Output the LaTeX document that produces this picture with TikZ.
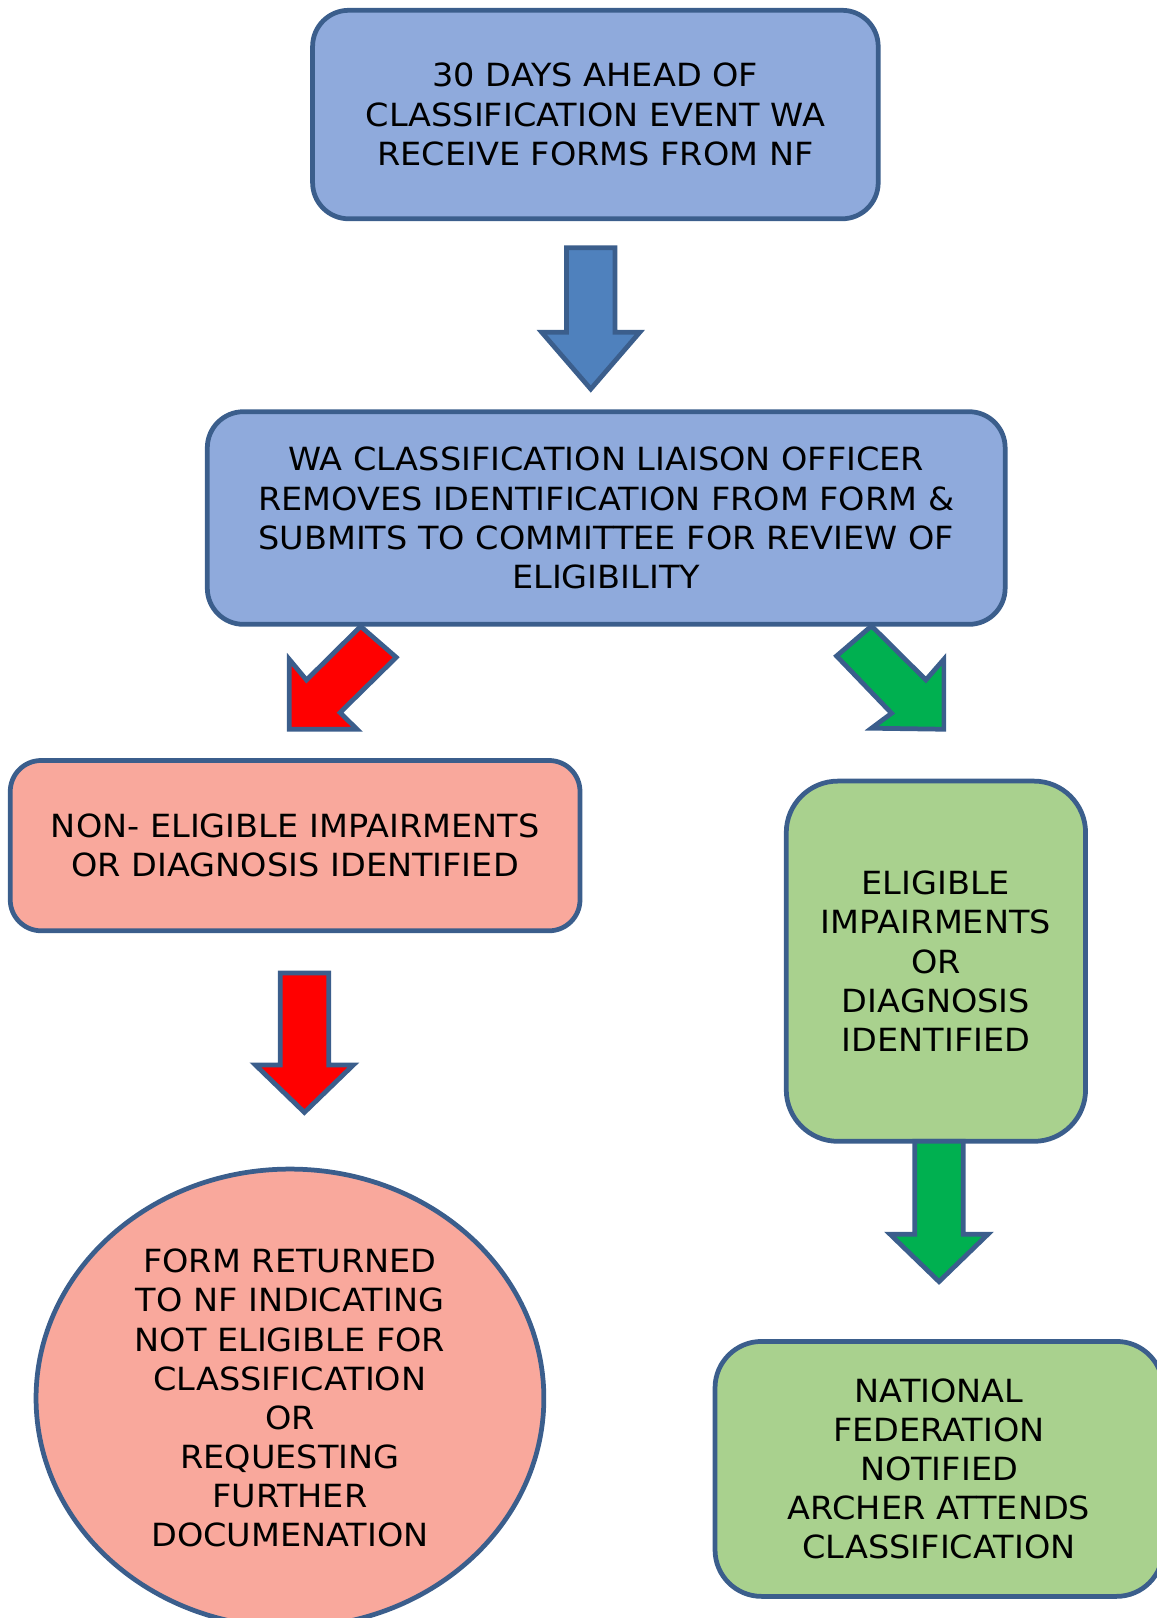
\documentclass[tikz,border=0pt]{standalone}
\usepackage{fontspec}
\setmainfont{DejaVu Sans}[FakeStretch=1.05]
\usetikzlibrary{shapes.geometric}
\definecolor{boxblue}{HTML}{8FAADC}
\definecolor{boxred}{HTML}{F9A89C}
\definecolor{boxgreen}{HTML}{A9D18E}
\definecolor{edgeblue}{HTML}{3B5E8C}
\definecolor{arrowblue}{HTML}{4F81BD}
\definecolor{arrowred}{HTML}{FF0000}
\definecolor{arrowgreen}{HTML}{00B050}
\tikzset{
  stage/.style={draw=edgeblue, line width=0.115cm, rectangle, align=center, inner sep=0pt,
    font=\fontsize{22}{27}\selectfont},
  blockarrow/.style={draw=edgeblue, line width=0.115cm, line join=miter}
}

\begin{document}
\begin{tikzpicture}[line cap=round,line join=round,x=0.025cm,y=-0.025cm]
        \useasboundingbox (0,0) rectangle (1121,1568);
        \clip (0,0) rectangle (1121,1568);
        % boxes
        \node[stage, fill=boxblue, rounded corners=0.875cm, minimum width=13.7cm, minimum height=5.05cm] (forms) at (577,111) {30 DAYS AHEAD OF\\CLASSIFICATION EVENT WA\\RECEIVE FORMS FROM NF};
        \node[stage, fill=boxblue, rounded corners=0.875cm, minimum width=19.325cm, minimum height=5.15cm] (liaison) at (587.5,502) {WA CLASSIFICATION LIAISON OFFICER\\REMOVES IDENTIFICATION FROM FORM \&\\SUBMITS TO COMMITTEE FOR REVIEW OF\\ELIGIBILITY};
        \node[stage, fill=boxred, rounded corners=0.75cm, minimum width=13.8cm, minimum height=4.125cm] (noneligible) at (286,819.5) {NON- ELIGIBLE IMPAIRMENTS\\OR DIAGNOSIS IDENTIFIED};
        \node[stage, fill=boxgreen, rounded corners=1.25cm, minimum width=7.25cm, minimum height=8.725cm] (eligible) at (907,931.5) {ELIGIBLE\\IMPAIRMENTS\\OR\\DIAGNOSIS\\IDENTIFIED};
        \node[stage, ellipse, fill=boxred, minimum width=12.3cm, minimum height=11.1cm] (returned) at (281,1355) {FORM RETURNED\\TO NF INDICATING\\NOT ELIGIBLE FOR\\CLASSIFICATION\\OR\\REQUESTING\\FURTHER\\DOCUMENATION};
        \node[stage, fill=boxgreen, rounded corners=1.125cm, minimum width=10.85cm, minimum height=6.175cm] (notified) at (910,1423.5) {NATIONAL\\FEDERATION\\NOTIFIED\\ARCHER ATTENDS\\CLASSIFICATION};
        % down arrows
        \foreach \cx/\ytop/\yneck/\ytip/\col in {572.5/240/322/377/arrowblue, 295/943/1032/1078/arrowred, 910/1106/1196/1242/arrowgreen}
            \draw[blockarrow, fill=\col] ({\cx-23.5},\ytop) -- ({\cx+23.5},\ytop) -- ({\cx+23.5},\yneck) -- ({\cx+47.5},\yneck) -- (\cx,\ytip) -- ({\cx-47.5},\yneck) -- ({\cx-23.5},\yneck) -- cycle;
        % diagonal arrows
        \draw[blockarrow, fill=arrowred] (349.5,607) -- (384,637) -- (329.5,690.6) -- (346,706.7) -- (280.4,706.7) -- (280.4,639) -- (297,659) -- cycle;
        \draw[blockarrow, fill=arrowgreen] (844.6,606.6) -- (897.3,658.9) -- (914.7,638.9) -- (914.7,706.7) -- (844.6,705.7) -- (864,691.2) -- (810.7,635.7) -- cycle;
    \end{tikzpicture}
\end{document}
